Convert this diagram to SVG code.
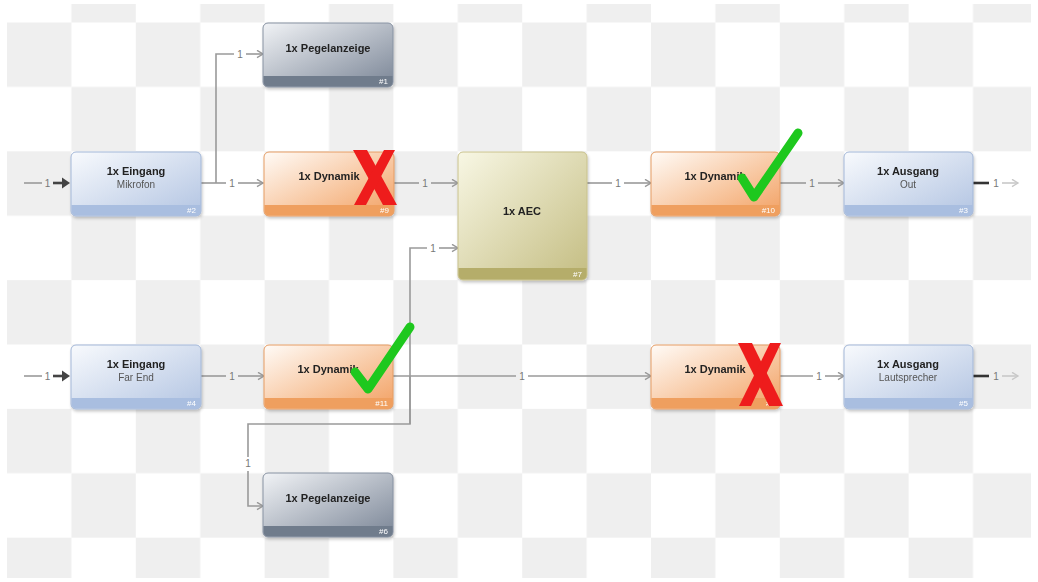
<svg xmlns="http://www.w3.org/2000/svg" width="1038" height="582" viewBox="0 0 1038 582">
<defs>
<pattern id="chk" patternUnits="userSpaceOnUse" x="7" y="22.5" width="128.8" height="128.8">
<rect x="0" y="0" width="64.4" height="64.4" fill="#efefef"/>
<rect x="64.4" y="64.4" width="64.4" height="64.4" fill="#efefef"/>
</pattern>
<linearGradient id="gBlue" x1="0" y1="0" x2="1" y2="1"><stop offset="0" stop-color="#f8fafd"/><stop offset="1" stop-color="#b2c4e2"/></linearGradient>
<linearGradient id="gOrange" x1="0" y1="0" x2="1" y2="1"><stop offset="0" stop-color="#fffbf7"/><stop offset="0.55" stop-color="#f8c9a4"/><stop offset="1" stop-color="#f2a062"/></linearGradient>
<linearGradient id="gGray" x1="0" y1="0" x2="1" y2="1"><stop offset="0" stop-color="#f1f3f6"/><stop offset="1" stop-color="#7a8596"/></linearGradient>
<linearGradient id="gOlive" x1="0" y1="0" x2="1" y2="1"><stop offset="0" stop-color="#f8f7e4"/><stop offset="1" stop-color="#c4bd82"/></linearGradient>
<filter id="sh" x="-10%" y="-10%" width="130%" height="130%"><feDropShadow dx="1" dy="2" stdDeviation="1.5" flood-color="#000" flood-opacity="0.22"/></filter>
<marker id="ah" markerWidth="9" markerHeight="9" refX="7.5" refY="4.5" orient="auto" markerUnits="userSpaceOnUse"><path d="M1.5,0.8 L7.5,4.5 L1.5,8.2" fill="none" stroke="#999" stroke-width="1.4"/></marker>
<marker id="ahl" markerWidth="9" markerHeight="9" refX="7.5" refY="4.5" orient="auto" markerUnits="userSpaceOnUse"><path d="M1.5,0.8 L7.5,4.5 L1.5,8.2" fill="none" stroke="#c8c8c8" stroke-width="1.4"/></marker>
<style>
.title{font-family:"Liberation Sans",Arial,sans-serif;font-size:11px;font-weight:bold;fill:#222;text-anchor:middle}
.sub{font-family:"Liberation Sans",Arial,sans-serif;font-size:10px;fill:#555;text-anchor:middle}
.idx{font-family:"Liberation Sans",Arial,sans-serif;font-size:8px;fill:#fff;text-anchor:end}
.lbl{font-family:"Liberation Sans",Arial,sans-serif;font-size:10px;fill:#777;text-anchor:middle}
.ln{fill:none;stroke:#9a9a9a;stroke-width:1.6}
.arr{fill:none;stroke:#9a9a9a;stroke-width:1.6;marker-end:url(#ah)}
.inarr{fill:none;stroke:#444;stroke-width:2.6}
.outln{fill:none;stroke:#333;stroke-width:2.6}
.outarr{fill:none;stroke:#c8c8c8;stroke-width:1.6;marker-end:url(#ahl)}
.blue .body{fill:url(#gBlue);stroke:#a3b7d8}
.blue .band{fill:#a9bee0}
.orange .body{fill:url(#gOrange);stroke:#e59c64}
.orange .band{fill:#ef9f5e}
.gray .body{fill:url(#gGray);stroke:#8792a2}
.gray .band{fill:#6f7b8c}
.olive .body{fill:url(#gOlive);stroke:#c9c28c}
.olive .band{fill:#b5ad6a}
.chk{fill:none;stroke:#1ec81e;stroke-width:9;stroke-linecap:round;stroke-linejoin:round}
.rx{fill:#ee1c1c}
</style>
</defs>
<rect x="0" y="0" width="1038" height="582" fill="#fff"/>
<rect x="7" y="4" width="1024" height="574" fill="url(#chk)"/>

<g id="connectors">
<!-- top row -->
<path class="ln" d="M24,183 H42"/><text class="lbl" x="47.5" y="186.5">1</text>
<path class="inarr" d="M53,183 H63"/><polygon points="62,177.5 70,183 62,188.5" fill="#444"/>
<path class="ln" d="M201,183 H226"/><text class="lbl" x="232" y="186.5">1</text><path class="arr" d="M238,183 H263"/>
<path class="ln" d="M216,183 V54 H234"/><text class="lbl" x="240" y="57.5">1</text><path class="arr" d="M246,54 H263"/>
<path class="ln" d="M394,183 H419"/><text class="lbl" x="425" y="186.5">1</text><path class="arr" d="M431,183 H458"/>
<path class="ln" d="M587,183 H612"/><text class="lbl" x="618" y="186.5">1</text><path class="arr" d="M624,183 H651"/>
<path class="ln" d="M780,183 H806"/><text class="lbl" x="812" y="186.5">1</text><path class="arr" d="M818,183 H844"/>
<path class="outln" d="M973,183 H989"/><text class="lbl" x="996" y="186.5">1</text><path class="outarr" d="M1002,183 H1018"/>
<!-- bottom row -->
<path class="ln" d="M24,376 H42"/><text class="lbl" x="47.5" y="379.5">1</text>
<path class="inarr" d="M53,376 H63"/><polygon points="62,370.5 70,376 62,381.5" fill="#444"/>
<path class="ln" d="M201,376 H226"/><text class="lbl" x="232" y="379.5">1</text><path class="arr" d="M238,376 H264"/>
<path class="ln" d="M393,376 H516"/><text class="lbl" x="522" y="379.5">1</text><path class="arr" d="M528,376 H651"/>
<path class="ln" d="M410,424 V248 H427"/><text class="lbl" x="433" y="251.5">1</text><path class="arr" d="M439,248 H458"/>
<path class="ln" d="M410,376 V424 H248 V457"/><text class="lbl" x="248" y="467">1</text><path class="arr" d="M248,471 V506 H263"/>
<path class="ln" d="M780,376 H813"/><text class="lbl" x="819" y="379.5">1</text><path class="arr" d="M825,376 H844"/>
<path class="outln" d="M973,376 H989"/><text class="lbl" x="996" y="379.5">1</text><path class="outarr" d="M1002,376 H1018"/>
</g>

<g id="n2" class="blue" filter="url(#sh)">
<rect class="body" x="71" y="152" width="130" height="64" rx="5"/>
<path class="band" d="M71.5,205 H200.5 V211 A5 5 0 0 1 195.5,215.5 H76.5 A5 5 0 0 1 71.5,211 Z"/>
<text class="title" x="136" y="175">1x Eingang</text><text class="sub" x="136" y="188">Mikrofon</text><text class="idx" x="196" y="213">#2</text>
</g>
<g id="n1" class="gray" filter="url(#sh)">
<rect class="body" x="263" y="23" width="130" height="64" rx="5"/>
<path class="band" d="M263.5,76 H392.5 V82 A5 5 0 0 1 387.5,86.5 H268.5 A5 5 0 0 1 263.5,82 Z"/>
<text class="title" x="328" y="52">1x Pegelanzeige</text><text class="idx" x="388" y="84">#1</text>
</g>
<g id="n9" class="orange" filter="url(#sh)">
<rect class="body" x="264" y="152" width="130" height="64" rx="5"/>
<path class="band" d="M264.5,205 H393.5 V211 A5 5 0 0 1 388.5,215.5 H269.5 A5 5 0 0 1 264.5,211 Z"/>
<text class="title" x="329" y="180">1x Dynamik</text><text class="idx" x="389" y="213">#9</text>
</g>
<g id="n7" class="olive" filter="url(#sh)">
<rect class="body" x="458" y="152" width="129" height="128" rx="5"/>
<path class="band" d="M458.5,268 H586.5 V275 A5 5 0 0 1 581.5,279.5 H463.5 A5 5 0 0 1 458.5,275 Z"/>
<text class="title" x="522" y="215">1x AEC</text><text class="idx" x="582" y="277">#7</text>
</g>
<g id="n10" class="orange" filter="url(#sh)">
<rect class="body" x="651" y="152" width="129" height="64" rx="5"/>
<path class="band" d="M651.5,205 H779.5 V211 A5 5 0 0 1 774.5,215.5 H656.5 A5 5 0 0 1 651.5,211 Z"/>
<text class="title" x="715" y="180">1x Dynamik</text><text class="idx" x="775" y="213">#10</text>
</g>
<g id="n3" class="blue" filter="url(#sh)">
<rect class="body" x="844" y="152" width="129" height="64" rx="5"/>
<path class="band" d="M844.5,205 H972.5 V211 A5 5 0 0 1 967.5,215.5 H849.5 A5 5 0 0 1 844.5,211 Z"/>
<text class="title" x="908" y="175">1x Ausgang</text><text class="sub" x="908" y="188">Out</text><text class="idx" x="968" y="213">#3</text>
</g>
<g id="n4" class="blue" filter="url(#sh)">
<rect class="body" x="71" y="345" width="130" height="64" rx="5"/>
<path class="band" d="M71.5,398 H200.5 V404 A5 5 0 0 1 195.5,408.5 H76.5 A5 5 0 0 1 71.5,404 Z"/>
<text class="title" x="136" y="368">1x Eingang</text><text class="sub" x="136" y="381">Far End</text><text class="idx" x="196" y="406">#4</text>
</g>
<g id="n11" class="orange" filter="url(#sh)">
<rect class="body" x="264" y="345" width="129" height="64" rx="5"/>
<path class="band" d="M264.5,398 H392.5 V404 A5 5 0 0 1 387.5,408.5 H269.5 A5 5 0 0 1 264.5,404 Z"/>
<text class="title" x="328" y="373">1x Dynamik</text><text class="idx" x="388" y="406">#11</text>
</g>
<g id="n8" class="orange" filter="url(#sh)">
<rect class="body" x="651" y="345" width="129" height="64" rx="5"/>
<path class="band" d="M651.5,398 H779.5 V404 A5 5 0 0 1 774.5,408.5 H656.5 A5 5 0 0 1 651.5,404 Z"/>
<text class="title" x="715" y="373">1x Dynamik</text><text class="idx" x="775" y="406">#8</text>
</g>
<g id="n5" class="blue" filter="url(#sh)">
<rect class="body" x="844" y="345" width="129" height="64" rx="5"/>
<path class="band" d="M844.5,398 H972.5 V404 A5 5 0 0 1 967.5,408.5 H849.5 A5 5 0 0 1 844.5,404 Z"/>
<text class="title" x="908" y="368">1x Ausgang</text><text class="sub" x="908" y="381">Lautsprecher</text><text class="idx" x="968" y="406">#5</text>
</g>
<g id="n6" class="gray" filter="url(#sh)">
<rect class="body" x="263" y="473" width="130" height="64" rx="5"/>
<path class="band" d="M263.5,526 H392.5 V532 A5 5 0 0 1 387.5,536.5 H268.5 A5 5 0 0 1 263.5,532 Z"/>
<text class="title" x="328" y="502">1x Pegelanzeige</text><text class="idx" x="388" y="534">#6</text>
</g>

<g id="marks">
<polygon class="rx" points="353,150 367,150 397,205 383,205"/>
<polygon class="rx" points="384,150 395,150 366,205 354,205"/>
<polygon class="rx" points="738,343 752,343 783,406 769,406"/>
<polygon class="rx" points="770,343 781,343 751,406 739,406"/>
<path class="chk" d="M742,178 L754,197 L798,133"/>
<path class="chk" d="M355,372 L368,389 L410,327"/>
</g>
</svg>
